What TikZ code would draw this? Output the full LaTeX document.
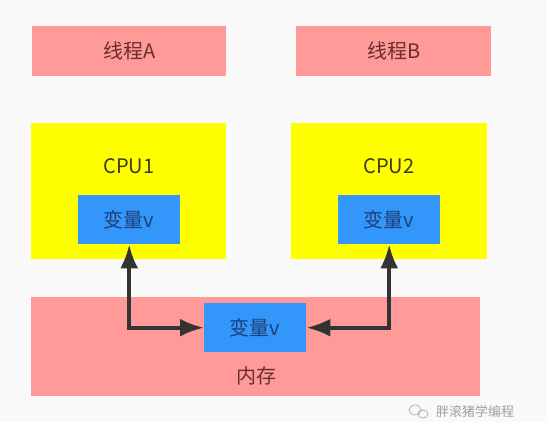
\documentclass[tikz,border=0pt]{standalone}
\usepackage{fontspec}
\setmainfont{Noto Sans CJK SC}
\usetikzlibrary{arrows.meta}
\definecolor{bgc}{HTML}{F9F9F9}
\definecolor{pinkc}{HTML}{FF9A98}
\definecolor{yelc}{HTML}{FFFF00}
\definecolor{bluec}{HTML}{3296FA}
\definecolor{pinktxt}{HTML}{6A2E2E}
\definecolor{bluetxt}{HTML}{1E3F78}
\definecolor{yeltxt}{HTML}{3A3A20}
\definecolor{arrowc}{HTML}{333333}
\tikzset{
  box/.style={draw=none, anchor=north west, inner sep=0pt},
  lbl/.style={font=\fontsize{20}{22}\selectfont},
  link/.style={draw=arrowc, line width=3.8pt, {Latex[length=24pt,width=18pt]}-{Latex[length=24pt,width=18pt]}},
}
\begin{document}
\begin{tikzpicture}[x=1pt,y=-1pt]
\fill[bgc] (0,0) rectangle (547,422);
\useasboundingbox (0,0) rectangle (547,422);
% threads
\node[box, fill=pinkc, minimum width=194pt, minimum height=50pt] (ta) at (32,26) {};
\node[lbl, text=pinktxt] (tat) at (ta.center) {线程A};
\node[box, fill=pinkc, minimum width=195pt, minimum height=50pt] (tb) at (296,26) {};
\node[lbl, text=pinktxt] (tbt) at (tb.center) {线程B};
% CPUs
\node[box, fill=yelc, minimum width=195pt, minimum height=136pt] (c1) at (31,123) {};
\node[lbl, text=yeltxt] (c1t) at (129,166) {CPU1};
\node[box, fill=yelc, minimum width=196pt, minimum height=136pt] (c2) at (291,123) {};
\node[lbl, text=yeltxt] (c2t) at (389,166) {CPU2};
\node[box, fill=bluec, minimum width=102pt, minimum height=49pt] (v1) at (78,195) {};
\node[lbl, text=bluetxt] (v1t) at (v1.center) {变量v};
\node[box, fill=bluec, minimum width=102pt, minimum height=49pt] (v2) at (338,195) {};
\node[lbl, text=bluetxt] (v2t) at (v2.center) {变量v};
% memory
\node[box, fill=pinkc, minimum width=449pt, minimum height=99pt] (mem) at (31,297) {};
\node[box, fill=bluec, minimum width=102pt, minimum height=49pt] (mv) at (204,303) {};
\node[lbl, text=bluetxt] (mvt) at (mv.center) {变量v};
\node[lbl, text=pinktxt] (memt) at (256,376) {内存};
% links
\draw[link] (v1.south) |- (mv.west);
\draw[link] (v2.south) |- (mv.east);
% watermark
\node[font=\fontsize{13}{14}\selectfont, text=gray!75] (wm) at (475,412) {胖滚猪学编程};
\draw[gray!60, line width=0.8pt] (415,410) ellipse (6pt and 5pt);
\draw[gray!60, line width=0.8pt] (423,414) ellipse (5pt and 4pt);
\end{tikzpicture}
\end{document}
